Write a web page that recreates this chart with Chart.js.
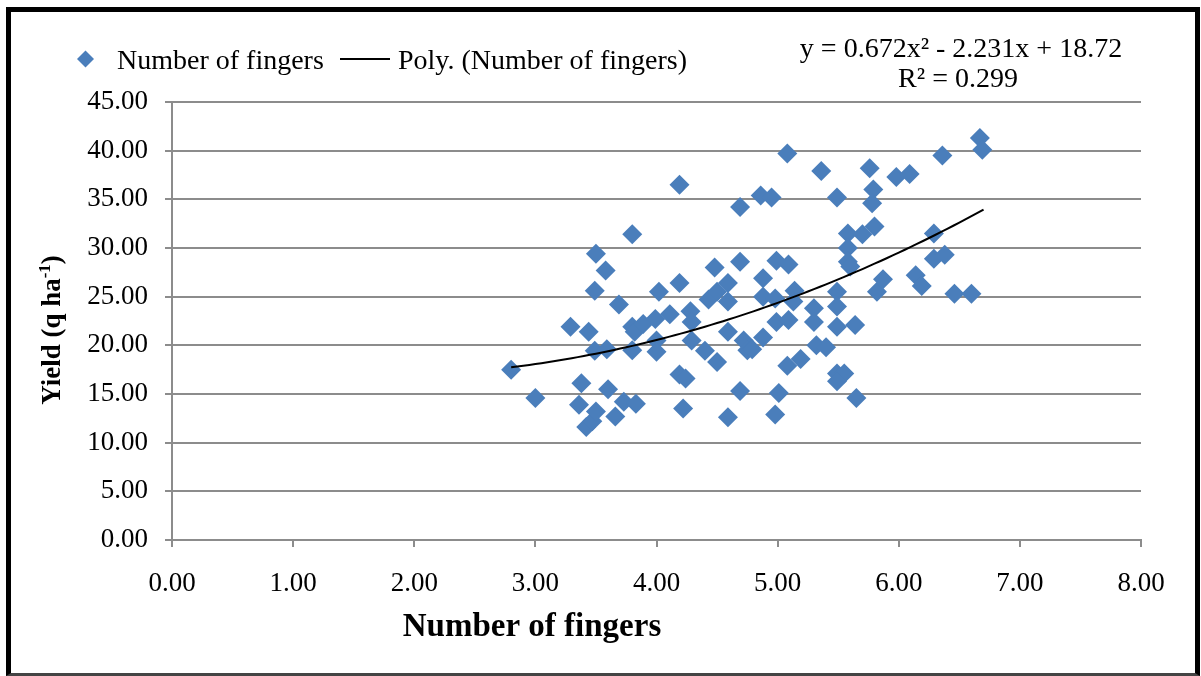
<!DOCTYPE html>
<html>
<head>
<meta charset="utf-8">
<script src="https://cdn.jsdelivr.net/npm/chart.js@4.4.1/dist/chart.umd.min.js"></script>
<style>
  body { margin: 0; background: #fff; }
  #wrap { position: relative; width: 1201px; height: 676px; }
  #frame { position: absolute; left: 6px; top: 7px; width: 1194px; height: 669px;
           box-sizing: border-box; border: 5px solid #000; border-bottom: 3px solid #444; pointer-events: none; }
</style>
</head>
<body>
<div id="wrap">
  <canvas id="ch" width="1201" height="676"></canvas>
  <div id="frame"></div>
</div>
<script>
// number of fingers per plant vs yield
let fingers = [
  2.80,3.00,3.29,3.38,3.36,3.44,3.42,3.47,3.50,3.49,
  3.50,3.49,3.58,3.59,3.60,3.66,3.69,3.73,3.80,3.80,
  3.82,3.80,3.83,3.89,3.99,4.00,4.00,4.02,4.11,4.19,
  4.19,4.19,4.24,4.22,4.28,4.29,4.29,4.40,4.43,4.48,
  4.50,4.50,4.59,4.59,4.59,4.59,4.69,4.69,4.69,4.72,
  4.75,4.79,4.86,4.88,4.88,4.88,4.95,4.98,4.99,4.99,
  5.01,4.98,5.08,5.09,5.09,5.08,5.14,5.13,5.19,5.30,
  5.30,5.32,5.36,5.40,5.49,5.49,5.49,5.49,5.49,5.55,
  5.49,5.58,5.58,5.58,5.60,5.64,5.65,5.70,5.76,5.79,
  5.78,5.80,5.82,5.87,5.98,6.09,6.14,6.19,6.29,6.29,
  6.38,6.36,6.46,6.60,6.67,6.69
];
let yieldVals = [
  17.5,14.6,21.9,16.1,13.9,21.4,11.6,12.2,13.2,25.6,
  29.4,19.45,27.7,19.6,15.5,12.7,24.2,14.2,31.4,21.9,
  21.4,19.5,14.0,22.2,22.7,20.5,19.35,25.5,23.2,36.5,
  26.4,17.0,16.6,13.5,23.5,22.4,20.5,19.45,24.7,28.0,
  25.5,18.3,26.4,24.5,21.4,12.6,34.2,28.6,15.3,20.5,
  19.5,19.6,35.4,26.9,25.0,20.8,35.2,24.8,28.7,22.4,
  15.1,12.9,39.7,28.3,22.6,17.9,25.6,24.5,18.6,23.8,
  22.4,20.0,37.9,19.8,35.2,25.5,24.0,21.9,17.1,17.1,
  16.3,31.5,30.0,28.6,28.1,22.1,14.6,31.4,38.2,36.0,
  34.6,32.2,25.5,26.8,37.3,37.6,27.2,26.1,31.5,28.9,
  29.3,39.5,25.3,25.3,41.3,40.1
];

// polynomial trendline as printed on the chart
let polyCoef = [0.672, -2.231, 18.72];
let trendFrom = 2.8, trendTo = 6.7;
let eqText = ["y = 0.672x\u00b2 - 2.231x + 18.72", "R\u00b2 = 0.299"];

let xTicks = [0,1,2,3,4,5,6,7,8];
let yTicks = [0,5,10,15,20,25,30,35,40,45];

const serif = "'Liberation Serif', 'Times New Roman', serif";
const blue = "#4a7ebb";

let points = fingers.map((f, i) => ({x: f, y: yieldVals[i]}));
let trend = [];
for (let x = trendFrom; x <= trendTo + 1e-9; x += 0.05) {
  trend.push({x: x, y: polyCoef[0]*x*x + polyCoef[1]*x + polyCoef[2]});
}

// titles, legend and equation drawn straight on the canvas
const extras = {
  id: 'extras',
  afterDraw(chart) {
    const c = chart.ctx;
    c.save();

    // legend
    c.fillStyle = blue;
    c.beginPath();
    c.moveTo(77, 59); c.lineTo(85.5, 50.5); c.lineTo(94, 59); c.lineTo(85.5, 67.5);
    c.closePath(); c.fill();
    c.fillStyle = '#000';
    c.font = "28px " + serif;
    c.textBaseline = 'alphabetic';
    c.textAlign = 'left';
    c.fillText(chart.data.datasets[1].label, 117, 69);
    c.strokeStyle = '#000'; c.lineWidth = 2;
    c.beginPath(); c.moveTo(340, 59); c.lineTo(390, 59); c.stroke();
    c.fillText(chart.data.datasets[0].label, 398, 69);

    // equation
    c.textAlign = 'center';
    c.fillText(eqText[0], 961, 57);
    c.fillText(eqText[1], 958, 87);

    // x title
    c.font = "bold 33px " + serif;
    c.fillText("Number of fingers", 532, 636);

    // y title with superscript
    c.translate(60, 330);
    c.rotate(-Math.PI / 2);
    const big = "bold 27px " + serif, small = "bold 17px " + serif;
    c.font = big;
    let w1 = c.measureText("Yield (q ha").width;
    let w3 = c.measureText(")").width;
    c.font = small;
    let w2 = c.measureText("-1").width;
    let x0 = -(w1 + w2 + w3) / 2;
    c.textAlign = 'left';
    c.font = big;
    c.fillText("Yield (q ha", x0, 0);
    c.font = small;
    c.fillText("-1", x0 + w1, -10);
    c.font = big;
    c.fillText(")", x0 + w1 + w2, 0);
    c.restore();
  }
};

const ctx = document.getElementById('ch').getContext('2d');
const chart = new Chart(ctx, {
  type: 'scatter',
  data: {
    datasets: [
      {
        type: 'line',
        label: 'Poly. (Number of fingers)',
        data: trend,
        borderColor: '#000',
        borderWidth: 2,
        pointRadius: 0,
        fill: false,
        tension: 0,
        order: 0
      },
      {
        label: 'Number of fingers',
        data: points,
        pointStyle: 'rectRot',
        pointRadius: 10,
        backgroundColor: blue,
        borderColor: blue,
        borderWidth: 0,
        order: 1
      }
    ]
  },
  options: {
    responsive: false,
    animation: false,
    layout: { padding: { left: 60, right: 60, top: 102, bottom: 0 } },
    plugins: {
      legend: { display: false },
      tooltip: { enabled: false }
    },
    scales: {
      x: {
        type: 'linear',
        min: 0, max: 8,
        afterFit: s => { s.height = 136; },
        afterBuildTicks: s => { s.ticks = xTicks.map(v => ({value: v})); },
        ticks: {
          font: { family: serif, size: 27 },
          color: '#000',
          padding: 21,
          callback: v => v.toFixed(2)
        },
        grid: { drawOnChartArea: false, color: '#8c8c8c', lineWidth: 2, tickLength: 7 },
        border: { color: '#8c8c8c', width: 2 }
      },
      y: {
        min: 0, max: 45,
        afterFit: s => { s.width = 112; },
        afterBuildTicks: s => { s.ticks = yTicks.map(v => ({value: v})); },
        ticks: {
          font: { family: serif, size: 27 },
          color: '#000',
          padding: 17,
          callback: v => v.toFixed(2)
        },
        grid: { color: '#8c8c8c', lineWidth: 2, tickLength: 7 },
        border: { color: '#8c8c8c', width: 2 }
      }
    }
  },
  plugins: [extras]
});
</script>
</body>
</html>
